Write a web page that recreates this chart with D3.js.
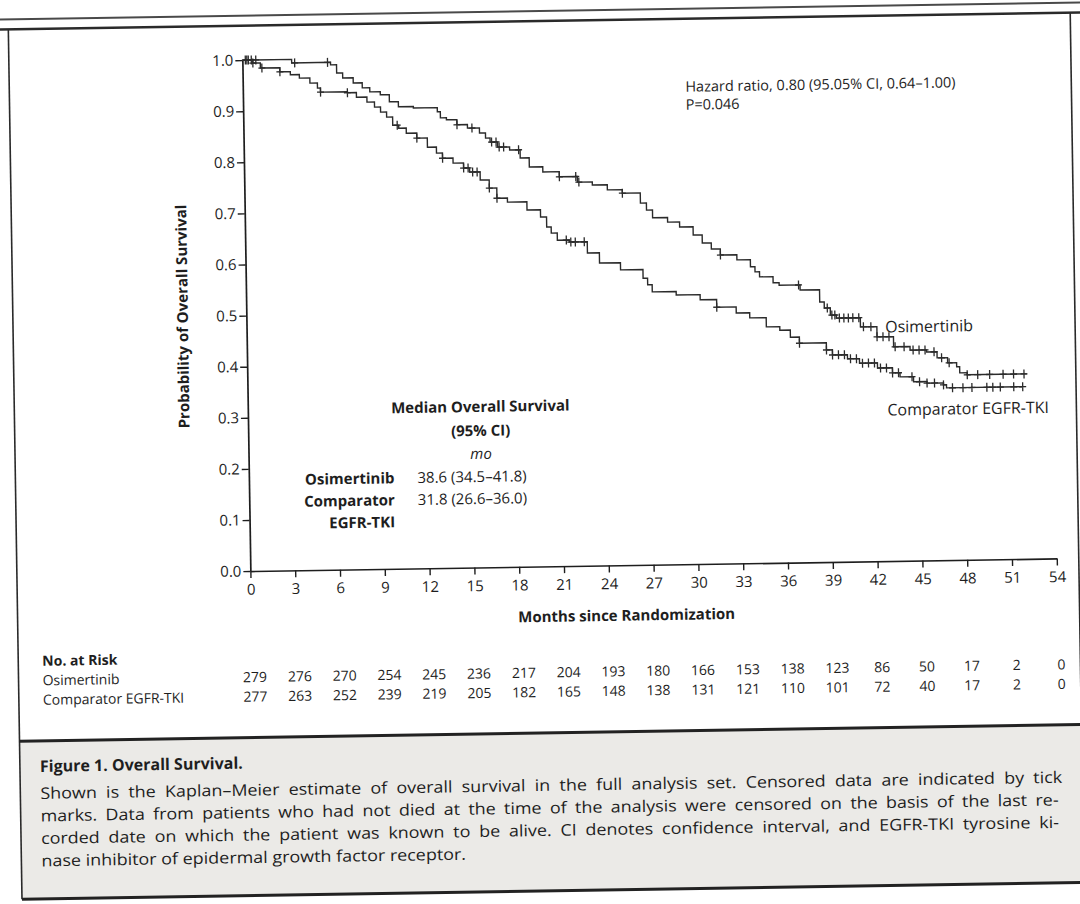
<!DOCTYPE html>
<html>
<head>
<meta charset="utf-8">
<script src="https://cdn.jsdelivr.net/npm/d3@7"></script>
<style>
  body { margin: 0; background: #fff; }
  text { font-family: "Open Sans", "DejaVu Sans", sans-serif; fill: #1e1e1e; }
  .axis path, .axis line { stroke: #1e1e1e; }
  .bold { font-weight: 700; }
</style>
</head>
<body>
<script>
// ---- data ----
var xTickValues = [0, 3, 6, 9, 12, 15, 18, 21, 24, 27, 30, 33, 36, 39, 42, 45, 48, 51, 54];
var yTickValues = [0, 0.1, 0.2, 0.3, 0.4, 0.5, 0.6, 0.7, 0.8, 0.9, 1.0];

// Kaplan-Meier steps, Osimertinib
var osiMonths = [0, 3.3, 5.9, 6.3, 6.7, 7.4, 8.0, 8.5, 9.2, 9.8, 10.4, 11.4, 13.0, 13.2, 13.6, 14.3, 15.0, 15.8,
  16.2, 16.5, 17.0, 17.8, 18.5, 19.1, 20.0, 21.1, 22.3, 23.3, 24.3, 25.3, 26.5, 26.9, 27.3, 28.3, 29.1, 30.0,
  30.6, 31.2, 31.8, 32.9, 33.8, 34.1, 34.4, 35.3, 35.7, 37.1, 38.4, 38.7, 39.1, 39.5, 41.1, 42.2, 43.3, 44.4,
  45.5, 46.2, 46.9, 47.5, 47.7, 48.2, 52.2];
var osiSurv = [1.0, 0.993, 0.988, 0.972, 0.962, 0.952, 0.942, 0.934, 0.928, 0.914, 0.904, 0.901, 0.893, 0.881, 0.877, 0.867, 0.860, 0.850,
  0.840, 0.832, 0.822, 0.816, 0.800, 0.782, 0.772, 0.762, 0.751, 0.745, 0.735, 0.728, 0.708, 0.694, 0.679, 0.670, 0.660, 0.644,
  0.628, 0.616, 0.604, 0.594, 0.580, 0.570, 0.560, 0.548, 0.543, 0.533, 0.509, 0.497, 0.483, 0.477, 0.459, 0.439, 0.419, 0.412,
  0.408, 0.396, 0.386, 0.378, 0.366, 0.362, 0.362];
var osiCensor = [0.2, 0.4, 0.6, 0.9, 3.5, 5.7, 14.3, 15.3, 16.6, 16.9, 17.1, 17.4, 18.4, 21.1, 22.2, 22.4, 25.3, 31.8,
  37.0, 38.9, 39.2, 39.4, 39.7, 40.0, 40.3, 40.6, 41.0, 41.3, 41.8, 42.2, 42.6, 43.0, 43.4, 44.0, 44.6, 45.0, 45.4,
  46.0, 46.5, 47.0, 48.2, 48.9, 49.7, 50.6, 51.3, 52.0];

// Kaplan-Meier steps, comparator EGFR-TKI
var cmpMonths = [0, 0.7, 1.2, 2.5, 3.2, 3.8, 4.5, 5.0, 5.2, 7.0, 7.6, 8.3, 8.8, 9.2, 9.6, 10.0, 10.4, 10.9, 11.6,
  12.3, 12.9, 13.3, 14.0, 14.7, 15.1, 15.8, 16.4, 16.9, 17.6, 18.9, 19.8, 20.2, 20.5, 20.9, 21.7, 22.9, 23.7,
  25.1, 26.6, 26.9, 27.2, 28.8, 30.4, 31.5, 32.8, 33.7, 34.8, 35.7, 36.4, 37.0, 38.8, 39.2, 40.2, 41.0, 42.2,
  43.2, 43.7, 44.6, 45.5, 46.6, 46.8, 51.9];
var cmpSurv = [1.0, 0.994, 0.984, 0.976, 0.970, 0.963, 0.953, 0.943, 0.935, 0.933, 0.924, 0.914, 0.904, 0.894, 0.884, 0.868, 0.862, 0.852, 0.842,
  0.824, 0.812, 0.802, 0.792, 0.782, 0.774, 0.758, 0.742, 0.722, 0.714, 0.698, 0.684, 0.664, 0.652, 0.638, 0.634, 0.612, 0.592,
  0.578, 0.561, 0.548, 0.534, 0.527, 0.517, 0.502, 0.490, 0.480, 0.462, 0.455, 0.441, 0.429, 0.415, 0.405, 0.397, 0.388, 0.378,
  0.368, 0.360, 0.350, 0.347, 0.343, 0.337, 0.337];
var cmpCensor = [0.3, 0.7, 1.3, 2.5, 5.2, 7.0, 10.3, 11.6, 13.3, 14.7, 15.0, 15.3, 15.6, 16.4, 16.9, 21.5, 21.8, 22.1, 22.7, 31.5,
  37.0, 38.8, 39.2, 39.6, 40.0, 40.4, 40.8, 41.2, 41.6, 42.0, 42.4, 42.8, 43.2, 43.6, 44.5, 45.0, 45.5, 46.0, 46.6,
  47.2, 47.9, 48.5, 49.5, 49.9, 50.4, 51.3, 51.9];

// number at risk
var riskMonths = [0, 3, 6, 9, 12, 15, 18, 21, 24, 27, 30, 33, 36, 39, 42, 45, 48, 51, 54];
var osiRisk = [279, 276, 270, 254, 245, 236, 217, 204, 193, 180, 166, 153, 138, 123, 86, 50, 17, 2, 0];
var cmpRisk = [277, 263, 252, 239, 219, 205, 182, 165, 148, 138, 131, 121, 110, 101, 72, 40, 17, 2, 0];

var captionLines = [
  "Shown is the Kaplan\u2013Meier estimate of overall survival in the full analysis set. Censored data are indicated by tick",
  "marks. Data from patients who had not died at the time of the analysis were censored on the basis of the last re-",
  "corded date on which the patient was known to be alive. CI denotes confidence interval, and EGFR-TKI tyrosine ki-",
  "nase inhibitor of epidermal growth factor receptor."
];
var captionWidths = [1022, 1018, 1018, null];

// ---- layout ----
var width = 1080, height = 904;

var svg = d3.select("body").append("svg")
  .attr("width", width)
  .attr("height", height);

svg.append("rect").attr("width", width).attr("height", height).attr("fill", "#fff");

// the scan is slightly tilted
var root = svg.append("g").attr("transform", "rotate(-0.9,540,450)");

// frame + caption box
root.append("rect")
  .attr("x", 15).attr("y", 733).attr("width", 1090).attr("height", 158)
  .attr("fill", "#ebeae7");
root.append("line").attr("x1", -20).attr("x2", 1100).attr("y1", 11).attr("y2", 11)
  .attr("stroke", "#4a4a4a").attr("stroke-width", 2);
root.append("line").attr("x1", -20).attr("x2", 1100).attr("y1", 21).attr("y2", 21)
  .attr("stroke", "#2a2a2a").attr("stroke-width", 2.5);
root.append("line").attr("x1", 15).attr("x2", 15).attr("y1", 21).attr("y2", 891)
  .attr("stroke", "#2a2a2a").attr("stroke-width", 1.6);
root.append("line").attr("x1", 1077).attr("x2", 1077).attr("y1", 21).attr("y2", 733)
  .attr("stroke", "#2a2a2a").attr("stroke-width", 1.6);
root.append("line").attr("x1", 15).attr("x2", 1100).attr("y1", 733).attr("y2", 733)
  .attr("stroke", "#222").attr("stroke-width", 3);
root.append("line").attr("x1", 15).attr("x2", 1100).attr("y1", 891).attr("y2", 891)
  .attr("stroke", "#222").attr("stroke-width", 3);

// scales and axes
var x = d3.scaleLinear().domain([0, 54]).range([248.5, 1055]);
var y = d3.scaleLinear().domain([0, 1]).range([566.5, 55.5]);

var xAxis = d3.axisBottom(x).tickValues(xTickValues).tickSize(7).tickPadding(6).tickSizeOuter(0);
var yAxis = d3.axisLeft(y).tickValues(yTickValues).tickFormat(d3.format(".1f"))
  .tickSize(7).tickPadding(2).tickSizeOuter(0);

var gX = root.append("g")
  .attr("class", "axis")
  .attr("transform", "translate(0," + y(0) + ")")
  .call(xAxis);
var gY = root.append("g")
  .attr("class", "axis")
  .attr("transform", "translate(" + x(0) + ",0)")
  .call(yAxis);

root.selectAll(".axis path").attr("stroke-width", 1.7);
root.selectAll(".axis line").attr("stroke-width", 1.4);
root.selectAll(".axis text").style("font-size", "15px").attr("fill", "#1e1e1e")
  .style("font-family", "'Open Sans', sans-serif");

// axis titles
root.append("text")
  .attr("class", "bold")
  .attr("transform", "translate(190," + ((y(0) + y(1)) / 2) + ") rotate(-90)")
  .attr("text-anchor", "middle")
  .style("font-size", "15px")
  .text("Probability of Overall Survival");
root.append("text")
  .attr("class", "bold")
  .attr("x", 624).attr("y", 622)
  .attr("text-anchor", "middle")
  .style("font-size", "15px")
  .text("Months since Randomization");

// curves
var line = d3.line()
  .x(function(d) { return x(d[0]); })
  .y(function(d) { return y(d[1]); })
  .curve(d3.curveStepAfter);

function stepAt(months, surv, t) {
  var i = d3.bisectRight(months, t) - 1;
  return surv[Math.max(0, i)];
}

function drawCurve(months, surv, censor) {
  var pts = months.map(function(m, i) { return [m, surv[i]]; });
  root.append("path")
    .datum(pts)
    .attr("fill", "none")
    .attr("stroke", "#2b2b2b")
    .attr("stroke-width", 1.4)
    .attr("d", line);
  root.append("g").selectAll("path")
    .data(censor)
    .enter().append("path")
      .attr("transform", function(t) { return "translate(" + x(t) + "," + y(stepAt(months, surv, t)) + ")"; })
      .attr("d", "M0,-4.5V4.5M-3.5,0H3.5")
      .attr("stroke", "#2b2b2b")
      .attr("stroke-width", 1.3)
      .attr("fill", "none");
}
drawCurve(osiMonths, osiSurv, osiCensor);
drawCurve(cmpMonths, cmpSurv, cmpCensor);

// curve labels
root.append("text").attr("x", 887).attr("y", 338).style("font-size", "16px").text("Osimertinib");
root.append("text").attr("x", 888).attr("y", 421).style("font-size", "16px").text("Comparator EGFR-TKI");

// hazard ratio
root.append("text").attr("x", 691).attr("y", 94).style("font-size", "14.5px")
  .text("Hazard ratio, 0.80 (95.05% CI, 0.64\u20131.00)");
root.append("text").attr("x", 691).attr("y", 112).style("font-size", "14.5px").text("P=0.046");

// median block
var med = root.append("g");
med.append("text").attr("class", "bold").attr("x", 481).attr("y", 411)
  .attr("text-anchor", "middle").style("font-size", "15px").text("Median Overall Survival");
med.append("text").attr("class", "bold").attr("x", 481).attr("y", 435)
  .attr("text-anchor", "middle").style("font-size", "15px").text("(95% CI)");
med.append("text").attr("x", 481).attr("y", 458)
  .attr("text-anchor", "middle").style("font-size", "15px").style("font-style", "italic").text("mo");
med.append("text").attr("class", "bold").attr("x", 394).attr("y", 481)
  .attr("text-anchor", "end").style("font-size", "15px").text("Osimertinib");
med.append("text").attr("x", 417).attr("y", 481).style("font-size", "15px").text("38.6 (34.5\u201341.8)");
med.append("text").attr("class", "bold").attr("x", 394).attr("y", 503)
  .attr("text-anchor", "end").style("font-size", "15px").text("Comparator");
med.append("text").attr("x", 417).attr("y", 503).style("font-size", "15px").text("31.8 (26.6\u201336.0)");
med.append("text").attr("class", "bold").attr("x", 394).attr("y", 525)
  .attr("text-anchor", "end").style("font-size", "15px").text("EGFR-TKI");

// number at risk
var riskRows = [677.5, 697];
var risk = root.append("g").style("font-size", "14px");
risk.append("text").attr("class", "bold").attr("x", 39).attr("y", 658).text("No. at Risk");
risk.append("text").attr("x", 39).attr("y", riskRows[0]).text("Osimertinib");
risk.append("text").attr("x", 39).attr("y", riskRows[1]).text("Comparator EGFR-TKI");

[osiRisk, cmpRisk].forEach(function(row, r) {
  risk.append("g").selectAll("text")
    .data(row)
    .enter().append("text")
      .attr("x", function(d, i) { return x(riskMonths[i]) + 3; })
      .attr("y", riskRows[r])
      .attr("text-anchor", "middle")
      .text(function(d) { return d; });
});

// caption: justified lines, set word by word
root.append("text").attr("class", "bold").attr("x", 35).attr("y", 764)
  .style("font-size", "16px").text("Figure 1. Overall Survival.");

var capG = root.append("g").style("font-size", "16px");
var probe = capG.append("text");
function measure(s) { probe.text(s); return probe.node().getComputedTextLength(); }
var spaceW = measure("a a") - measure("aa");

var stretches = [];
captionLines.forEach(function(str, li) {
  var words = str.split(" ");
  var widths = words.map(measure);
  var natural = d3.sum(widths) + spaceW * (words.length - 1);
  var s, gap;
  if (captionWidths[li]) {
    s = Math.min(captionWidths[li] / natural, 1.12);
    stretches.push(s);
    gap = (captionWidths[li] - d3.sum(widths) * s) / (words.length - 1);
  } else {
    s = d3.mean(stretches);
    gap = spaceW * s;
  }
  var pos = 35;
  var xs = widths.map(function(w) { var p = pos; pos += w * s + gap; return p; });
  capG.append("g").selectAll("text")
    .data(words)
    .enter().append("text")
      .attr("x", function(d, i) { return xs[i]; })
      .attr("y", 791 + li * 22.5)
      .attr("textLength", function(d, i) { return widths[i] * s; })
      .attr("lengthAdjust", "spacingAndGlyphs")
      .text(function(d) { return d; });
});
probe.remove();
</script>
</body>
</html>
